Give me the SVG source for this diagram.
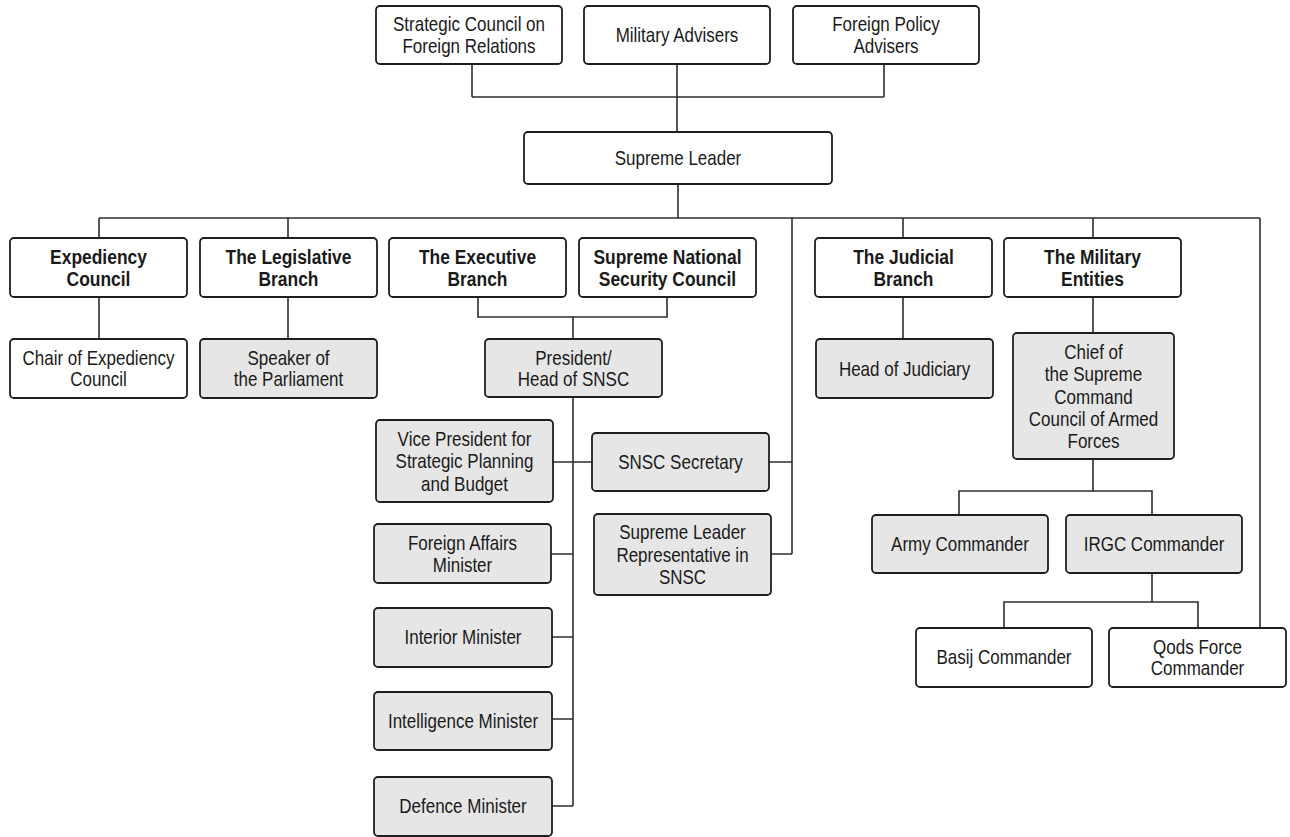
<svg xmlns="http://www.w3.org/2000/svg" width="1290" height="837" viewBox="0 0 1290 837">
<style>
.box{fill:#ffffff;stroke:#1e1e1e;stroke-width:1.8}
.g{fill:#e6e6e6}
.c{fill:none;stroke:#2e2e2e;stroke-width:1.6}
text{font-family:"Liberation Sans",Arial,sans-serif;fill:#1a1a1a;text-anchor:middle}
.t{font-size:20px}
.b{font-size:21px;font-weight:bold}
</style>
<rect width="1290" height="837" fill="#ffffff"/>
<g id="connectors" class="c">
<path d="M472,64V97M677,64V132M884,64V97M472,97H884"/>
<path d="M678,184V218M99,218H1260"/>
<path d="M99,218V238M288,218V238M903,218V238M1093,218V238"/>
<path d="M1260,218V628M792,218V554"/>
<path d="M99,297V339M288,297V339M903,297V339M1093,297V333"/>
<path d="M478,297V317H667V297M573,317V339"/>
<path d="M573,397V806"/>
<path d="M553,462H592M769,462H792M771,554H792"/>
<path d="M551,554H573M552,637H573M552,719H573M552,806H573"/>
<path d="M1093,459V491M959,515V491H1152V515"/>
<path d="M1152,573V602M1004,628V602H1198V628"/>
</g>
<g id="strategic-council"><rect class="box" x="376" y="6" width="186" height="58" rx="4"/><text class="t" transform="translate(469,0) scale(0.85,1)"><tspan x="0" y="31.2">Strategic Council on</tspan><tspan x="0" y="52.6">Foreign Relations</tspan></text></g>
<g id="military-advisers"><rect class="box" x="584" y="6" width="186" height="58" rx="4"/><text class="t" transform="translate(677,0) scale(0.85,1)"><tspan x="0" y="42">Military Advisers</tspan></text></g>
<g id="foreign-policy-advisers"><rect class="box" x="793" y="6" width="186" height="58" rx="4"/><text class="t" transform="translate(886,0) scale(0.85,1)"><tspan x="0" y="31.4">Foreign Policy</tspan><tspan x="0" y="52.8">Advisers</tspan></text></g>
<g id="supreme-leader"><rect class="box" x="524" y="132" width="308" height="52" rx="4"/><text class="t" transform="translate(678,0) scale(0.85,1)"><tspan x="0" y="165.5">Supreme Leader</tspan></text></g>
<g id="expediency-council"><rect class="box" x="10" y="238" width="177" height="59" rx="4"/><text class="b" transform="translate(98.5,0) scale(0.83,1)"><tspan x="0" y="264">Expediency</tspan><tspan x="0" y="286">Council</tspan></text></g>
<g id="legislative-branch"><rect class="box" x="200" y="238" width="177" height="59" rx="4"/><text class="b" transform="translate(288.5,0) scale(0.83,1)"><tspan x="0" y="264">The Legislative</tspan><tspan x="0" y="286">Branch</tspan></text></g>
<g id="executive-branch"><rect class="box" x="389" y="238" width="177" height="59" rx="4"/><text class="b" transform="translate(477.5,0) scale(0.83,1)"><tspan x="0" y="264">The Executive</tspan><tspan x="0" y="286">Branch</tspan></text></g>
<g id="snsc"><rect class="box" x="579" y="238" width="177" height="59" rx="4"/><text class="b" transform="translate(667.5,0) scale(0.83,1)"><tspan x="0" y="264">Supreme National</tspan><tspan x="0" y="286">Security Council</tspan></text></g>
<g id="judicial-branch"><rect class="box" x="815" y="238" width="177" height="59" rx="4"/><text class="b" transform="translate(903.5,0) scale(0.83,1)"><tspan x="0" y="264">The Judicial</tspan><tspan x="0" y="286">Branch</tspan></text></g>
<g id="military-entities"><rect class="box" x="1004" y="238" width="177" height="59" rx="4"/><text class="b" transform="translate(1092.5,0) scale(0.83,1)"><tspan x="0" y="264">The Military</tspan><tspan x="0" y="286">Entities</tspan></text></g>
<g id="chair-expediency"><rect class="box" x="10" y="339" width="177" height="59" rx="4"/><text class="t" transform="translate(98.5,0) scale(0.85,1)"><tspan x="0" y="364.8">Chair of Expediency</tspan><tspan x="0" y="386.3">Council</tspan></text></g>
<g id="speaker"><rect class="box g" x="200" y="339" width="177" height="59" rx="4"/><text class="t" transform="translate(288.5,0) scale(0.85,1)"><tspan x="0" y="364.8">Speaker of</tspan><tspan x="0" y="386.3">the Parliament</tspan></text></g>
<g id="president"><rect class="box g" x="485" y="339" width="177" height="58" rx="4"/><text class="t" transform="translate(573.5,0) scale(0.85,1)"><tspan x="0" y="364.8">President/</tspan><tspan x="0" y="386.3">Head of SNSC</tspan></text></g>
<g id="head-judiciary"><rect class="box g" x="816" y="339" width="177" height="59" rx="4"/><text class="t" transform="translate(904.5,0) scale(0.85,1)"><tspan x="0" y="376">Head of Judiciary</tspan></text></g>
<g id="chief-armed-forces"><rect class="box g" x="1013" y="333" width="161" height="126" rx="4"/><text class="t" transform="translate(1093.5,0) scale(0.85,1)"><tspan x="0" y="359">Chief of</tspan><tspan x="0" y="381.3">the Supreme</tspan><tspan x="0" y="403.6">Command</tspan><tspan x="0" y="425.9">Council of Armed</tspan><tspan x="0" y="448.2">Forces</tspan></text></g>
<g id="vice-president"><rect class="box g" x="376" y="420" width="177" height="82" rx="4"/><text class="t" transform="translate(464.5,0) scale(0.85,1)"><tspan x="0" y="446">Vice President for</tspan><tspan x="0" y="468.3">Strategic Planning</tspan><tspan x="0" y="490.6">and Budget</tspan></text></g>
<g id="foreign-affairs"><rect class="box g" x="374" y="524" width="177" height="59" rx="4"/><text class="t" transform="translate(462.5,0) scale(0.85,1)"><tspan x="0" y="550">Foreign Affairs</tspan><tspan x="0" y="571.7">Minister</tspan></text></g>
<g id="interior"><rect class="box g" x="374" y="608" width="178" height="59" rx="4"/><text class="t" transform="translate(463,0) scale(0.85,1)"><tspan x="0" y="644.5">Interior Minister</tspan></text></g>
<g id="intelligence"><rect class="box g" x="374" y="692" width="178" height="58" rx="4"/><text class="t" transform="translate(463,0) scale(0.85,1)"><tspan x="0" y="728">Intelligence Minister</tspan></text></g>
<g id="defence"><rect class="box g" x="374" y="777" width="178" height="59" rx="4"/><text class="t" transform="translate(463,0) scale(0.85,1)"><tspan x="0" y="813.5">Defence Minister</tspan></text></g>
<g id="snsc-secretary"><rect class="box g" x="592" y="433" width="177" height="58" rx="4"/><text class="t" transform="translate(680.5,0) scale(0.85,1)"><tspan x="0" y="469">SNSC Secretary</tspan></text></g>
<g id="sl-representative"><rect class="box g" x="594" y="514" width="177" height="81" rx="4"/><text class="t" transform="translate(682.5,0) scale(0.85,1)"><tspan x="0" y="539.3">Supreme Leader</tspan><tspan x="0" y="561.6">Representative in</tspan><tspan x="0" y="583.9">SNSC</tspan></text></g>
<g id="army-commander"><rect class="box g" x="872" y="515" width="176" height="58" rx="4"/><text class="t" transform="translate(960,0) scale(0.85,1)"><tspan x="0" y="551">Army Commander</tspan></text></g>
<g id="irgc-commander"><rect class="box g" x="1066" y="515" width="176" height="58" rx="4"/><text class="t" transform="translate(1154,0) scale(0.85,1)"><tspan x="0" y="551">IRGC Commander</tspan></text></g>
<g id="basij-commander"><rect class="box" x="916" y="628" width="176" height="59" rx="4"/><text class="t" transform="translate(1004,0) scale(0.85,1)"><tspan x="0" y="664.5">Basij Commander</tspan></text></g>
<g id="qods-commander"><rect class="box" x="1109" y="628" width="177" height="59" rx="4"/><text class="t" transform="translate(1197.5,0) scale(0.85,1)"><tspan x="0" y="653.7">Qods Force</tspan><tspan x="0" y="675.4">Commander</tspan></text></g>
</svg>
